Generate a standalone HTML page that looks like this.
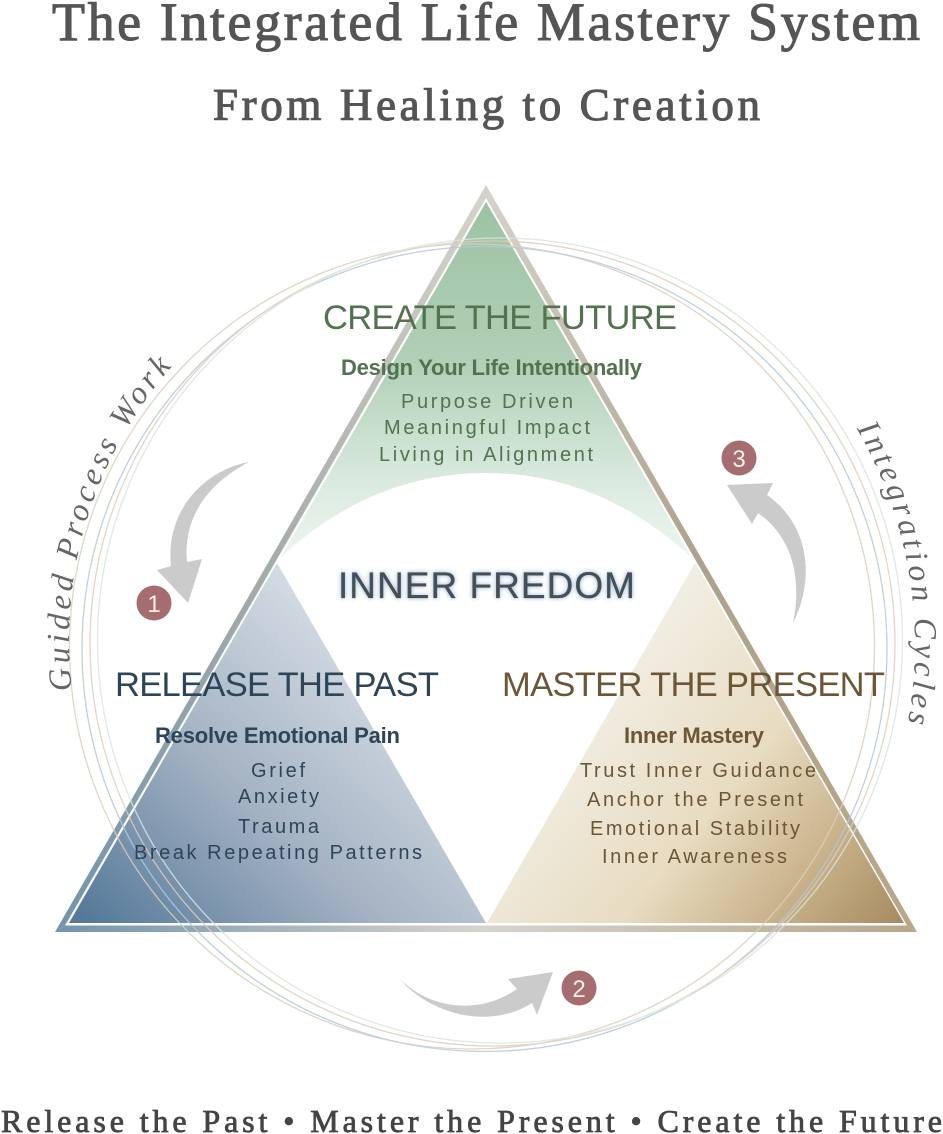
<!DOCTYPE html>
<html lang="en">
<head>
<meta charset="utf-8">
<title>The Integrated Life Mastery System</title>
<style>
html,body{margin:0;padding:0;background:#fff;width:943px;height:1134px;overflow:hidden}
svg{display:block}
.serif{font-family:"Liberation Serif",serif}
.sans{font-family:"Liberation Sans",sans-serif}
.t{fill:#555;stroke:#555;stroke-width:1.1px}
.h{font-size:34.5px}
.b{font-size:22px;font-weight:bold}
.l{font-size:20px}
.g{fill:#527250}.n{fill:#2d4559}.o{fill:#6d5636}
.cv{font-family:"Liberation Serif",serif;font-style:italic;font-size:32px;fill:#666}
</style>
</head>
<body>
<svg width="943" height="1134" viewBox="0 0 943 1134" xmlns="http://www.w3.org/2000/svg">
<defs>
<linearGradient id="gG" x1="0" y1="202" x2="0" y2="560" gradientUnits="userSpaceOnUse">
<stop offset="0" stop-color="#9dc2a3"/><stop offset=".45" stop-color="#b1d0b7"/><stop offset=".8" stop-color="#dcebe1"/><stop offset="1" stop-color="#eef6f1"/>
</linearGradient>
<linearGradient id="gB" x1="90" y1="925" x2="360" y2="640" gradientUnits="userSpaceOnUse">
<stop offset="0" stop-color="#55799a"/><stop offset=".5" stop-color="#a3b1c2"/><stop offset="1" stop-color="#d4dce4"/>
</linearGradient>
<linearGradient id="gT" x1="895" y1="925" x2="610" y2="690" gradientUnits="userSpaceOnUse">
<stop offset="0" stop-color="#a98c62"/><stop offset=".3" stop-color="#cbb68f"/><stop offset=".58" stop-color="#e8dcc1"/><stop offset="1" stop-color="#f1ede2"/>
</linearGradient>
<linearGradient id="bL" x1="55" y1="931" x2="486" y2="185" gradientUnits="userSpaceOnUse">
<stop offset="0" stop-color="#7294ae"/><stop offset=".5" stop-color="#a6acaa"/><stop offset="1" stop-color="#d6d3cb"/>
</linearGradient>
<linearGradient id="bR" x1="917" y1="931" x2="486" y2="185" gradientUnits="userSpaceOnUse">
<stop offset="0" stop-color="#baa788"/><stop offset=".5" stop-color="#aea28d"/><stop offset="1" stop-color="#d6d3cb"/>
</linearGradient>
<linearGradient id="bB" x1="55" y1="0" x2="917" y2="0" gradientUnits="userSpaceOnUse">
<stop offset="0" stop-color="#7294ae"/><stop offset=".5" stop-color="#d6d4cd"/><stop offset="1" stop-color="#baa788"/>
</linearGradient>
<filter id="glow" x="-10%" y="-50%" width="120%" height="200%">
<feGaussianBlur in="SourceAlpha" stdDeviation="2.5" result="b"/>
<feFlood flood-color="#8fb0cf" flood-opacity="1"/>
<feComposite in2="b" operator="in" result="c"/>
<feMerge><feMergeNode in="c"/><feMergeNode in="SourceGraphic"/></feMerge>
</filter>
<path id="leftArc" d="M 72 690 A 415 415 0 0 1 484 225"/>
<path id="rightArc" d="M 484 214 A 431 431 0 0 1 915 645 A 431 431 0 0 1 850 872"/>
</defs>

<!-- fills -->
<path d="M486,202 L692,558 Q600,473 486,473 Q372,473 281,557 Z" fill="url(#gG)"/>
<path d="M277,563 L486,923 L69,923 Z" fill="url(#gB)"/>
<path d="M695,563 L904,923 L487,923 Z" fill="url(#gT)"/>

<!-- triangle frame -->
<polygon points="486,185 55,932 65,925.5 486,198" fill="url(#bL)"/>
<polygon points="486,185 917,932 907,925.5 486,198" fill="url(#bR)"/>
<polygon points="55,932 917,932 907,925.5 65,925.5" fill="url(#bB)"/>

<!-- circles -->
<g fill="none" stroke-width="1.3" opacity=".85">
<circle cx="472" cy="646.5" r="402.5" stroke="#dccfbd"/>
<circle cx="484.5" cy="649" r="402.5" stroke="#b5c8da"/>
<circle cx="492.5" cy="643.5" r="402.5" stroke="#dccfbd"/>
<circle cx="500" cy="640.5" r="402.5" stroke="#dbe5e0"/>
</g>

<!-- arrows -->
<g fill="#cbcbcb">
<path d="M249,462 C205,470 165,510 171,566 L157,570 L188,603 L202,559 L187,562 C183,520 205,485 249,462 Z"/>
<path d="M793,623 C815,580 810,525 767,495 L773,483 L727,485 L752,524 L758,513 C790,535 803,575 793,623 Z"/>
<path d="M399,978 C430,1015 490,1030 532,1003 L537,1015 L553,972 L508,979 L517,989 C480,1015 430,1010 399,978 Z"/>
</g>

<!-- badges -->
<g fill="#a56d70">
<circle cx="154" cy="603" r="17.5"/><circle cx="579" cy="988" r="17.5"/><circle cx="739" cy="458" r="17.5"/>
</g>
<g class="sans" font-size="24" fill="#fbeee6" text-anchor="middle">
<text x="154" y="612">1</text><text x="579" y="997">2</text><text x="739" y="467">3</text>
</g>

<!-- titles -->
<g class="serif">
<text class="t" x="52" y="40" font-size="54" textLength="868">The Integrated Life Mastery System</text>
<text class="t" x="213" y="120" font-size="45" textLength="547">From Healing to Creation</text>
<text class="t" x="1" y="1132" font-size="32" textLength="941" style="fill:#444;stroke:#444;stroke-width:.8px">Release the Past • Master the Present • Create the Future</text>
</g>

<!-- curved labels -->
<text class="cv" letter-spacing="4"><textPath href="#leftArc" startOffset="0">Guided Process Work</textPath></text>
<text class="cv" letter-spacing="4"><textPath href="#rightArc" startOffset="450">Integration Cycles</textPath></text>

<!-- blocks -->
<g class="sans">
<text class="h g" x="323" y="329" textLength="354">CREATE THE FUTURE</text>
<text class="b g" x="341" y="375" textLength="301">Design Your Life Intentionally</text>
<text class="l g" x="401" y="408" textLength="172">Purpose Driven</text>
<text class="l g" x="384" y="434" textLength="206">Meaningful Impact</text>
<text class="l g" x="379" y="461" textLength="214">Living in Alignment</text>

<text class="h n" x="115" y="696" textLength="324">RELEASE THE PAST</text>
<text class="b n" x="155" y="743" textLength="245">Resolve Emotional Pain</text>
<text class="l n" x="251" y="777" textLength="54">Grief</text>
<text class="l n" x="238" y="803" textLength="81">Anxiety</text>
<text class="l n" x="238" y="833" textLength="81">Trauma</text>
<text class="l n" x="134" y="859" textLength="288">Break Repeating Patterns</text>

<text class="h o" x="502" y="696" textLength="383">MASTER THE PRESENT</text>
<text class="b o" x="624" y="743" textLength="140">Inner Mastery</text>
<text class="l o" x="580" y="777" textLength="236">Trust Inner Guidance</text>
<text class="l o" x="587" y="806" textLength="216">Anchor the Present</text>
<text class="l o" x="590" y="835" textLength="210">Emotional Stability</text>
<text class="l o" x="602" y="863" textLength="185">Inner Awareness</text>

<text x="338" y="598" font-size="37" fill="#474f57" stroke="#474f57" stroke-width=".3" textLength="297" filter="url(#glow)">INNER FREDOM</text>
</g>
</svg>
</body>
</html>
